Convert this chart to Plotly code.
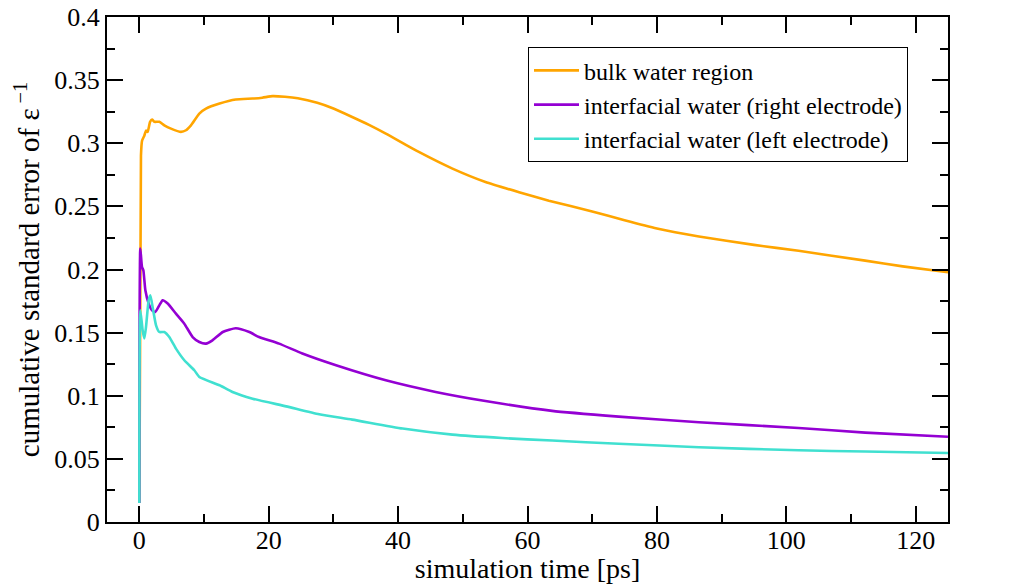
import plotly.graph_objects as go

# Cumulative standard error of the inverse dielectric constant vs. simulation time
t_bulk = [0, 0.25, 0.42, 0.77, 1.03, 1.28, 1.66, 1.97, 2.32, 3.09, 3.86, 4.89, 6.44, 7.21,
          7.98, 9.27, 10.3, 12.4, 14.9, 17.5, 19.0, 20.6, 22.5, 24.5, 27.5, 30.0, 32.9, 35.5,
          38.1, 43.2, 48.4, 53.5, 58.7, 63.3, 70, 75, 80, 86.5, 95, 101.9, 112.2, 118, 125]
v_bulk = [0.015, 0.29, 0.302, 0.306, 0.310, 0.309, 0.317, 0.3187, 0.317, 0.317, 0.3142, 0.3116,
          0.309, 0.3103, 0.3142, 0.3235, 0.3274, 0.3314, 0.3346, 0.3354, 0.3361, 0.3373, 0.3368,
          0.3356, 0.332, 0.3275, 0.3208, 0.3145, 0.3076, 0.2931, 0.2799, 0.2693, 0.2612, 0.2545,
          0.246, 0.239, 0.2325, 0.2262, 0.2195, 0.2148, 0.2070, 0.2025, 0.1978]

t_right = [0, 0.15, 0.41, 0.62, 0.93, 1.44, 1.96, 2.47, 3.09, 3.6, 4.38, 5.66, 6.95, 8.24, 9.27,
           10.3, 11.3, 12.9, 14.9, 17.0, 18.5, 21.6, 25.2, 30.4, 38.1, 45.8, 53.5, 63.8, 74.1,
           86.5, 101.9, 112.2, 125]
v_right = [0.015, 0.2165, 0.202, 0.1994, 0.1835, 0.173, 0.1677, 0.1664, 0.1716, 0.1756, 0.173,
           0.165, 0.1571, 0.1465, 0.1426, 0.1413, 0.1439, 0.1505, 0.1535, 0.1505, 0.1465, 0.1413,
           0.1334, 0.1241, 0.1122, 0.103, 0.0958, 0.0880, 0.0835, 0.0790, 0.0745, 0.0708, 0.0675]

t_left = [0, 0.15, 0.51, 0.77, 1.03, 1.44, 1.7, 2.05, 2.58, 3.09, 3.86, 4.63, 5.66, 6.95, 8.5,
          9.27, 12.4, 14.4, 17.5, 22.7, 27.8, 32.9, 40.7, 48.4, 56.1, 63.8, 74.1, 86.5, 101.9,
          112.2, 125]
v_left = [0.015, 0.1677, 0.1518, 0.1453, 0.1545, 0.1756, 0.1796, 0.1703, 0.1558, 0.1505, 0.1505,
          0.1465, 0.1373, 0.1281, 0.1202, 0.1149, 0.1083, 0.103, 0.0977, 0.0916, 0.0853, 0.0811,
          0.074, 0.0692, 0.0665, 0.0645, 0.0620, 0.0592, 0.0568, 0.0558, 0.0547]

series_names = ["bulk water region",
                "interfacial water (right electrode)",
                "interfacial water (left electrode)"]
series_colors = ["#FFA500", "#9400D3", "#40E0D0"]

x_tickvals = [0, 20, 40, 60, 80, 100, 120]
y_tickvals = [0, 0.05, 0.1, 0.15, 0.2, 0.25, 0.3, 0.35, 0.4]
y_ticktext = ["0", "0.05", "0.1", "0.15", "0.2", "0.25", "0.3", "0.35", "0.4"]

FONT = "Liberation Serif"

fig = go.Figure()
for tx, vy, name, col in zip([t_bulk, t_right, t_left], [v_bulk, v_right, v_left],
                             series_names, series_colors):
    fig.add_trace(go.Scatter(x=tx, y=vy, mode="lines", name=name,
                             line=dict(color=col, width=2.6, shape="spline", smoothing=0.5)))

axis_common = dict(
    showline=True, linecolor="black", linewidth=2,
    ticks="inside", ticklen=16, tickwidth=2, tickcolor="black",
    mirror="ticks", showgrid=False, zeroline=False, automargin=False,
    tickfont=dict(family=FONT, size=26, color="black"),
)

fig.update_layout(
    width=1012, height=584,
    margin=dict(l=107, r=64, t=17, b=62),
    paper_bgcolor="white", plot_bgcolor="white",
    font=dict(family=FONT, color="black"),
    showlegend=True,
    legend=dict(
        x=0.5006, y=0.94, xanchor="left", yanchor="top",
        bordercolor="black", borderwidth=1, bgcolor="white",
        font=dict(family=FONT, size=24, color="black"),
        tracegroupgap=0, itemwidth=45,
    ),
    xaxis=dict(
        range=[-5, 125], tickvals=x_tickvals, ticklabelstandoff=-6,
        minor=dict(dtick=10, tick0=0, ticks="inside", ticklen=8, tickwidth=2, tickcolor="black"),
        title=dict(text="simulation time [ps]", font=dict(family=FONT, size=28), standoff=8),
        **axis_common,
    ),
    yaxis=dict(
        range=[0, 0.4], tickvals=y_tickvals, ticktext=y_ticktext,
        minor=dict(dtick=0.025, tick0=0, ticks="inside", ticklen=8, tickwidth=2, tickcolor="black"),
        title=dict(text="cumulative standard error of ε<sup> −1</sup>",
                   font=dict(family=FONT, size=29), standoff=6),
        **axis_common,
    ),
    yaxis2=dict(
        overlaying="y", side="right", range=[0, 0.4],
        tickvals=y_tickvals, ticktext=y_ticktext, automargin=False,
        ticks="", showline=False, showgrid=False, zeroline=False,
        tickfont=dict(family=FONT, size=26, color="black"),
    ),
)

fig.write_html("out.html")
